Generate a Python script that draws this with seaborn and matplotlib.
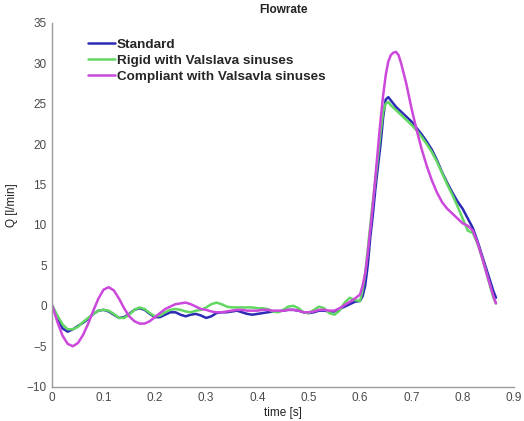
import numpy as np
import pandas as pd
import matplotlib
matplotlib.use("Agg")
import matplotlib.pyplot as plt
import seaborn as sns

time = [0.00, 0.01, 0.02, 0.03, 0.04, 0.05, 0.06, 0.07, 0.08, 0.09,
        0.10, 0.11, 0.12, 0.13, 0.14, 0.15, 0.16, 0.17, 0.18, 0.19,
        0.20, 0.21, 0.22, 0.23, 0.24, 0.25, 0.26, 0.27, 0.28, 0.29,
        0.30, 0.31, 0.32, 0.33, 0.34, 0.35, 0.36, 0.37, 0.38, 0.39,
        0.40, 0.41, 0.42, 0.43, 0.44, 0.45, 0.46, 0.47, 0.48, 0.49,
        0.50, 0.51, 0.52, 0.53, 0.54, 0.55, 0.56, 0.57, 0.58, 0.59,
        0.60, 0.605, 0.61, 0.615, 0.62, 0.625, 0.63, 0.635, 0.64, 0.645,
        0.65, 0.655, 0.66, 0.665, 0.67, 0.675, 0.68, 0.69,
        0.70, 0.71, 0.72, 0.73, 0.74, 0.75, 0.76, 0.77, 0.78, 0.79,
        0.80, 0.81, 0.82, 0.83, 0.84, 0.85, 0.86, 0.865]

standard = [0.0, -1.5, -2.8, -3.2, -2.9, -2.5, -2.1, -1.6, -1.0, -0.6,
            -0.5, -0.7, -1.1, -1.5, -1.4, -1.0, -0.5, -0.3, -0.5, -1.0,
            -1.4, -1.4, -1.1, -0.8, -0.8, -1.1, -1.3, -1.1, -1.0, -1.2,
            -1.5, -1.3, -0.9, -0.8, -0.8, -0.7, -0.6, -0.8, -1.0, -1.1,
            -1.0, -0.9, -0.8, -0.7, -0.7, -0.6, -0.5, -0.5, -0.6, -0.8,
            -0.9, -0.8, -0.6, -0.6, -0.7, -0.7, -0.4, -0.1, 0.2, 0.5,
            0.6, 1.2, 2.5, 5.0, 8.5, 11.3, 14.5, 17.3, 20.0, 23.3,
            25.5, 25.8, 25.4, 25.0, 24.6, 24.3, 24.0, 23.4,
            22.8, 22.0, 21.2, 20.3, 19.3, 18.0, 16.5, 15.2, 14.0, 12.9,
            12.0, 10.8, 9.6, 7.8, 5.8, 3.8, 1.8, 1.0]

rigid = [0.0, -1.2, -2.3, -2.9, -2.9, -2.6, -2.0, -1.5, -1.0, -0.6,
         -0.5, -0.6, -1.0, -1.5, -1.5, -1.1, -0.5, -0.2, -0.4, -0.9,
         -1.3, -1.2, -0.8, -0.5, -0.4, -0.5, -0.7, -0.8, -0.6, -0.5,
         -0.2, 0.2, 0.4, 0.2, -0.1, -0.2, -0.2, -0.2, -0.2, -0.2,
         -0.3, -0.3, -0.4, -0.7, -0.8, -0.5, -0.1, 0.0, -0.3, -0.8,
         -0.9, -0.5, -0.1, -0.3, -0.9, -1.1, -0.6, 0.4, 1.0, 0.7,
         0.6, 2.0, 4.0, 7.0, 10.0, 13.0, 15.6, 18.5, 21.5, 24.0,
         25.0, 25.2, 24.8, 24.5, 24.2, 23.9, 23.6, 23.0,
         22.4, 21.7, 20.9, 20.0, 19.0, 17.8, 16.4, 15.0, 13.7, 12.3,
         10.8, 9.3, 9.0, 7.5, 5.5, 3.2, 1.0, 0.3]

compliant = [0.0, -2.0, -3.7, -4.7, -5.0, -4.6, -3.6, -2.2, -0.6, 0.9,
             2.0, 2.3, 1.9, 0.9, -0.3, -1.3, -1.9, -2.2, -2.2, -1.9,
             -1.4, -0.9, -0.4, -0.1, 0.2, 0.3, 0.4, 0.2, -0.1, -0.4,
             -0.5, -0.7, -0.8, -0.8, -0.7, -0.6, -0.5, -0.5, -0.6, -0.6,
             -0.6, -0.5, -0.5, -0.6, -0.6, -0.6, -0.5, -0.5, -0.6, -0.8,
             -0.8, -0.7, -0.5, -0.5, -0.6, -0.6, -0.3, 0.1, 0.5, 0.9,
             1.4, 2.5, 4.0, 6.5, 9.5, 12.5, 16.0, 19.5, 23.0, 26.0,
             28.5, 30.2, 31.0, 31.3, 31.4, 31.0, 30.0, 27.5,
             24.5, 21.8, 19.4, 17.3, 15.5, 14.0, 12.8, 12.0, 11.4, 10.8,
             10.2, 9.9, 9.3, 7.6, 5.5, 3.3, 1.2, 0.3]

labels = ["Standard", "Rigid with Valslava sinuses", "Compliant with Valsavla sinuses"]
colors = ["#2b2bb5", "#62d862", "#cc48dc"]

df = pd.concat([
    pd.DataFrame({"time": time, "Q": vals, "series": lab})
    for lab, vals in zip(labels, [standard, rigid, compliant])
], ignore_index=True)

sns.set_style("white")
plt.rcParams["font.family"] = ["Liberation Sans", "DejaVu Sans"]

fig = plt.figure(figsize=(5.24, 4.21), dpi=100)
ax = fig.add_axes([0.0998, 0.0815, 0.881, 0.8645])

sns.lineplot(data=df, x="time", y="Q", hue="series", hue_order=labels,
             palette=dict(zip(labels, colors)), estimator=None, sort=False,
             linewidth=1.8, ax=ax)

ax.set_xlim(0, 0.9)
ax.set_ylim(-10, 35)
ax.set_xticks([0, 0.1, 0.2, 0.3, 0.4, 0.5, 0.6, 0.7, 0.8, 0.9])
ax.set_xticklabels(["0", "0.1", "0.2", "0.3", "0.4", "0.5", "0.6", "0.7", "0.8", "0.9"])
ax.set_yticks([-10, -5, 0, 5, 10, 15, 20, 25, 30, 35])
for s in ["top", "right"]:
    ax.spines[s].set_visible(False)
for s in ["left", "bottom"]:
    ax.spines[s].set_color("#9a9a9a")
    ax.spines[s].set_linewidth(1.0)
ax.tick_params(direction="in", length=4, width=0.8, color="#9a9a9a",
               labelsize=8.5, labelcolor="#4a4a4a", pad=4)

ax.set_xlabel("time [s]", fontsize=8.5, color="#222222", labelpad=2)
ax.set_ylabel("Q [l/min]", fontsize=8.5, color="#222222", labelpad=6)
ax.set_title("Flowrate", fontsize=8.5, fontweight="bold", color="#222222", pad=7)

leg = ax.legend(loc="upper left", bbox_to_anchor=(0.051, 0.99), frameon=False,
                handlelength=2.0, handletextpad=0.15, labelspacing=0.27,
                prop={"weight": "bold", "size": 9.7})

fig.savefig("out.png", dpi=100)
